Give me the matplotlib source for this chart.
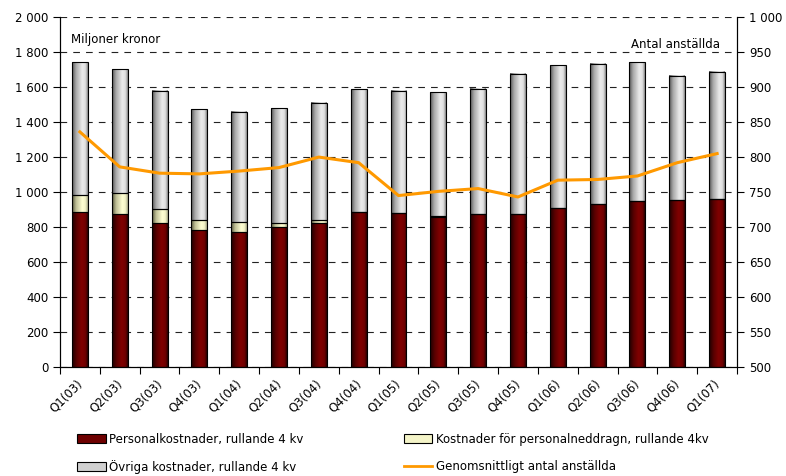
import numpy as np
import matplotlib
matplotlib.use("Agg")
from matplotlib import pyplot as plt
from matplotlib.colors import LinearSegmentedColormap
from matplotlib.patches import Patch
from matplotlib.lines import Line2D
from matplotlib.ticker import FuncFormatter, MultipleLocator

quarters = ['Q1(03)', 'Q2(03)', 'Q3(03)', 'Q4(03)', 'Q1(04)', 'Q2(04)', 'Q3(04)', 'Q4(04)',
            'Q1(05)', 'Q2(05)', 'Q3(05)', 'Q4(05)', 'Q1(06)', 'Q2(06)', 'Q3(06)', 'Q4(06)',
            'Q1(07)']
personal = [887, 874, 821, 783, 770, 798, 825, 887, 878, 859, 872, 872, 910, 929, 949, 952, 958]
neddragn = [96, 122, 80, 57, 57, 23, 13, 0, 0, 3, 0, 0, 0, 0, 0, 0, 0]
totals = [1743, 1701, 1579, 1474, 1459, 1478, 1510, 1587, 1579, 1570, 1587, 1673, 1724, 1730,
          1743, 1661, 1687]
ovriga = [t - p - n for t, p, n in zip(totals, personal, neddragn)]
anstallda = [836, 786, 777, 776, 780, 785, 800, 792, 745, 751, 755, 743, 767, 768, 773, 792, 805]

plt.rcParams['font.family'] = ['DejaVu Sans']
plt.rcParams['font.size'] = 8.5

# horizontal shading so the bars look like the rounded Excel columns
red_cmap = LinearSegmentedColormap.from_list(
    'red', [(0, '#1e0000'), (0.3, '#5a0000'), (0.6, '#800000'), (0.85, '#700000'), (1, '#2a0000')])
grey_cmap = LinearSegmentedColormap.from_list(
    'grey', [(0, '#555555'), (0.25, '#a8a8a8'), (0.65, '#ebebeb'), (0.85, '#dedede'), (1, '#8a8a8a')])
yellow_cmap = LinearSegmentedColormap.from_list(
    'yel', [(0, '#55553a'), (0.25, '#bdbd95'), (0.65, '#ffffd2'), (0.85, '#f2f2c6'), (1, '#a5a585')])

fig = plt.figure(figsize=(7.86, 4.76), dpi=100)
ax = fig.add_axes([0.0763, 0.229, 0.8614, 0.735])
x = np.arange(len(quarters))
width = 0.4
grad = np.linspace(0, 1, 64).reshape(1, -1)


def gradient_bars(bars, cmap):
    for b in bars:
        if b.get_height() <= 0:
            continue
        x0, y0 = b.get_x(), b.get_y()
        ax.imshow(grad, cmap=cmap, aspect='auto', extent=[x0, x0 + b.get_width(), y0, y0 + b.get_height()],
                  zorder=2, interpolation='bilinear')


b1 = ax.bar(x, personal, width, facecolor='none', edgecolor='black', linewidth=0.8, zorder=3)
b2 = ax.bar(x, neddragn, width, bottom=personal, facecolor='none', edgecolor='black', linewidth=0.8, zorder=3)
bottom2 = [p + n for p, n in zip(personal, neddragn)]
b3 = ax.bar(x, ovriga, width, bottom=bottom2, facecolor='none', edgecolor='black', linewidth=0.8, zorder=3)
gradient_bars(b1, red_cmap)
gradient_bars(b2, yellow_cmap)
gradient_bars(b3, grey_cmap)

ax.set_xlim(-0.5, len(quarters) - 0.5)
ax.set_ylim(0, 2000)
ax.yaxis.set_major_locator(MultipleLocator(200))
ax.yaxis.set_major_formatter(FuncFormatter(lambda v, p: f'{int(v):,}'.replace(',', ' ')))
ax.grid(axis='y', color='#222222', linestyle=(0, (6, 5.5)), linewidth=0.8, zorder=1)
ax.set_axisbelow(True)
ax.set_xticks(np.arange(-0.5, len(quarters)), minor=False)
ax.set_xticklabels([])
ax.set_xticks(x - 0.1, minor=True)
ax.set_xticklabels(quarters, minor=True, rotation=45, ha='right', va='top', rotation_mode='anchor')
ax.tick_params(axis='x', which='minor', length=0, pad=7)
ax.tick_params(axis='x', which='major', length=5, direction='out')
ax.tick_params(axis='y', length=5, direction='out')
ax.spines['top'].set_visible(False)

ax2 = ax.twinx()
ax2.plot(x, anstallda, color='#ff9900', linewidth=2.2, zorder=5)
ax2.set_ylim(500, 1000)
ax2.yaxis.set_major_locator(MultipleLocator(50))
ax2.yaxis.set_major_formatter(FuncFormatter(lambda v, p: f'{int(v):,}'.replace(',', ' ')))
ax2.tick_params(axis='y', length=5, direction='out')
ax2.spines['top'].set_visible(False)

ax.text(0.017, 0.955, 'Miljoner kronor', transform=ax.transAxes, ha='left', va='top')
ax.text(0.975, 0.94, 'Antal anställda', transform=ax.transAxes, ha='right', va='top')

handles = [
    Patch(facecolor='#6e0000', edgecolor='black', linewidth=0.8),
    Patch(facecolor='#d0d0d0', edgecolor='black', linewidth=0.8),
    Patch(facecolor='#f4f4c8', edgecolor='black', linewidth=0.8),
    Line2D([], [], color='#ff9900', linewidth=2),
]
labels = ['Personalkostnader, rullande 4 kv', 'Övriga kostnader, rullande 4 kv',
          'Kostnader för personalneddragn, rullande 4kv', 'Genomsnittligt antal anställda']
fig.legend(handles, labels, ncol=2, loc='lower left', bbox_to_anchor=(0.085, -0.018), frameon=False,
           handlelength=2.4, handleheight=0.8, handletextpad=0.3, columnspacing=8.5, labelspacing=1.2)

fig.savefig('out.png', dpi=100)
